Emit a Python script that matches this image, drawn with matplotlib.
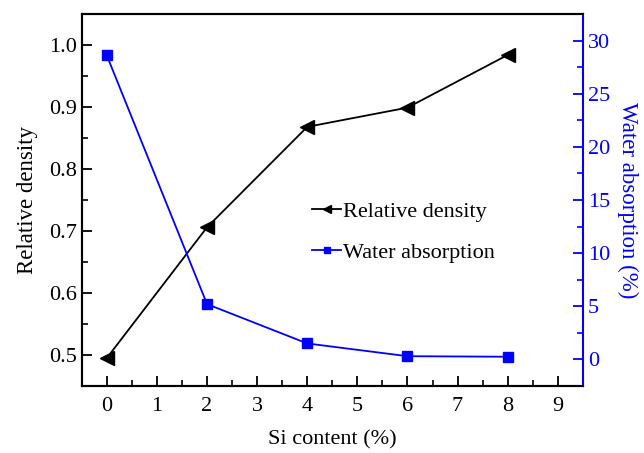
import matplotlib
matplotlib.use("Agg")
import matplotlib.pyplot as plt
from matplotlib.ticker import MultipleLocator

plt.rcParams['font.family'] = ['Liberation Serif', 'DejaVu Serif']

si_content = [0, 2, 4, 6, 8]
relative_density = [0.495, 0.706, 0.868, 0.899, 0.984]
water_absorption = [28.6, 5.2, 1.5, 0.3, 0.25]

fig = plt.figure(figsize=(6.44, 4.53), dpi=100)
ax = fig.add_axes([0.127, 0.148, 0.778, 0.821])
ax2 = ax.twinx()

l1, = ax.plot(si_content, relative_density, color='black', marker='<', markersize=10,
              linewidth=1.3, label='Relative density')
l2, = ax2.plot(si_content, water_absorption, color='blue', marker='s', markersize=7.5,
               linewidth=1.3, label='Water absorption')

ax.set_xlim(-0.5, 9.5)
ax.set_ylim(0.45, 1.05)
ax2.set_ylim(-2.5, 32.5)

ax.xaxis.set_major_locator(MultipleLocator(1))
ax.xaxis.set_minor_locator(MultipleLocator(0.5))
ax.yaxis.set_major_locator(MultipleLocator(0.1))
ax.yaxis.set_minor_locator(MultipleLocator(0.05))
ax2.yaxis.set_major_locator(MultipleLocator(5))
ax2.yaxis.set_minor_locator(MultipleLocator(2.5))

ax.tick_params(axis='both', which='major', direction='in', length=7, width=1.3, labelsize=16)
ax.tick_params(axis='both', which='minor', direction='in', length=4, width=1.2)
ax.tick_params(axis='x', pad=8)
ax2.tick_params(axis='y', which='major', direction='in', length=7, width=1.3,
                labelsize=16, colors='blue')
ax2.tick_params(axis='y', which='minor', direction='in', length=4, width=1.2, colors='blue')

for s in ['left', 'bottom', 'top']:
    ax.spines[s].set_linewidth(1.5)
    ax2.spines[s].set_linewidth(1.5)
ax2.spines['right'].set_color('blue')
ax2.spines['right'].set_linewidth(1.5)
ax.spines['right'].set_visible(False)

ax.set_xlabel('Si content (%)', fontsize=16, labelpad=10)
ax.set_ylabel('Relative density', fontsize=16.5, labelpad=8)
ax2.set_ylabel('Water absorption (%)', fontsize=16.5, color='blue', rotation=270, labelpad=20)

ax2.legend([l1, l2], ['Relative density', 'Water absorption'], loc='upper left',
           bbox_to_anchor=(0.42, 0.55), frameon=False, fontsize=16,
           handlelength=1.3, handletextpad=0.1, labelspacing=0.9, markerscale=0.6)

fig.savefig('out.png', dpi=100)
